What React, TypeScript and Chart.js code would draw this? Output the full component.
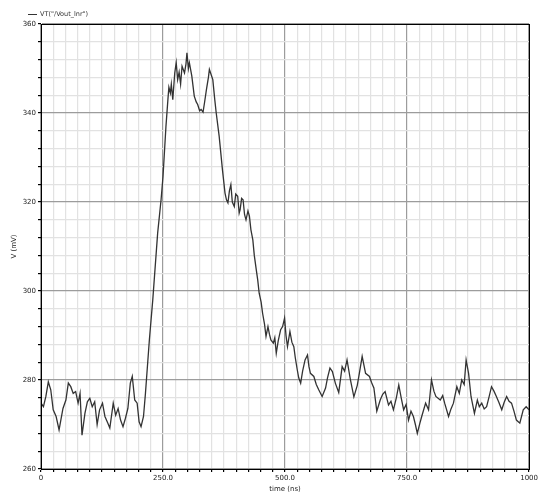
import React, { useEffect, useRef } from "react";
import { Chart, registerables } from "chart.js";

Chart.register(...registerables);

const legendLabel = 'VT("/Vout_lnr")';
const xTitle = "time (ns)";
const yTitle = "V (mV)";

const timeNs = [
  0, 5, 10, 15, 20, 25, 31, 37, 40, 45, 51, 56, 61, 66, 71, 76, 80, 84, 90, 95,
  100, 105, 110, 115, 120, 126, 131, 137, 141, 148, 153, 158, 163, 168, 173, 178, 183, 187, 192, 197,
  201, 205, 210, 214, 219, 222, 229, 239, 246, 250, 256, 260, 262, 265, 267, 270, 274, 277, 280, 283,
  286, 289, 294, 297, 299, 302, 304, 309, 314, 318, 321, 325, 328, 332, 335, 339, 343, 345, 349, 352,
  356, 359, 365, 372, 377, 380, 383, 386, 389, 392, 396, 399, 403, 406, 408, 411, 414, 417, 420, 424,
  427, 430, 434, 437, 441, 444, 447, 451, 454, 458, 461, 465, 468, 471, 476, 479, 482, 486, 491, 495,
  499, 502, 505, 510, 514, 518, 521, 525, 528, 532, 536, 541, 546, 549, 552, 559, 564, 569, 576, 583,
  587, 592, 597, 603, 610, 617, 622, 627, 634, 641, 648, 653, 658, 665, 673, 677, 682, 688, 695, 700,
  705, 712, 717, 722, 728, 733, 738, 743, 748, 753, 758, 763, 767, 771, 776, 780, 788, 794, 800, 805,
  809, 818, 823, 827, 835, 840, 845, 852, 857, 862, 867, 871, 876, 881, 888, 894, 898, 903, 908, 913,
  918, 923, 928, 933, 938, 944, 949, 954, 959, 964, 969, 974, 981, 988, 994, 1000,
];

const voltageMv = [
  274.8, 274.0, 276.3, 279.6, 277.8, 273.3, 271.8, 268.8, 270.6, 273.6, 275.5, 279.3, 278.5, 277.0, 277.4, 274.8, 277.0, 267.6, 272.5, 275.1,
  275.9, 274.0, 275.1, 270.0, 273.3, 274.8, 271.8, 270.3, 269.2, 274.8, 272.1, 273.6, 271.0, 269.5, 271.4, 273.6, 279.3, 280.8, 275.5, 274.8,
  270.6, 269.5, 271.8, 277.0, 284.5, 289.0, 298.0, 313.0, 320.5, 325.8, 337.0, 343.0, 345.8, 344.5, 346.5, 343.0, 349.0, 351.3, 347.5, 349.2,
  346.5, 350.5, 349.0, 351.0, 353.5, 350.0, 351.3, 348.3, 343.8, 342.5, 341.9, 340.5, 340.8, 340.2, 342.3, 345.3, 348.0, 349.8, 348.5, 347.5,
  343.0, 340.0, 334.8, 327.0, 322.0, 320.5, 319.8, 322.5, 323.9, 320.0, 319.0, 321.8, 321.3, 317.5, 318.3, 320.8, 320.5, 317.2, 316.0, 318.0,
  316.8, 313.8, 311.5, 308.0, 304.8, 302.5, 299.5, 297.5, 295.0, 292.5, 289.8, 292.0, 290.3, 289.0, 288.3, 289.5, 286.0, 288.8, 291.3, 292.0,
  293.9, 290.0, 287.5, 290.9, 288.5, 287.5, 285.0, 282.3, 280.5, 279.3, 282.0, 284.5, 285.6, 283.0, 281.5, 280.8, 279.0, 277.8, 276.3, 278.2,
  280.5, 282.7, 281.9, 279.3, 277.2, 283.0, 282.0, 284.5, 280.0, 276.2, 278.8, 282.0, 285.3, 281.5, 280.8, 279.5, 278.2, 273.0, 275.5, 276.8,
  277.4, 274.4, 275.2, 273.3, 276.0, 278.9, 276.0, 273.3, 274.5, 271.0, 273.0, 271.8, 270.0, 268.0, 270.2, 271.8, 274.8, 273.3, 280.0, 277.5,
  276.3, 275.5, 276.5, 274.8, 271.8, 273.5, 274.8, 278.5, 277.0, 280.0, 279.0, 284.5, 281.5, 276.3, 272.5, 275.5, 274.0, 274.8, 273.5, 274.0,
  276.2, 278.5, 277.5, 276.3, 275.0, 273.3, 275.0, 276.3, 275.2, 274.8, 273.0, 271.0, 270.3, 273.3, 274.0, 273.3,
];

const xMajorTicks = [0, 250, 500, 750, 1000];
const xTickLabels = ["0", "250.0", "500.0", "750.0", "1000"];
const yMajorTicks = [260, 280, 300, 320, 340, 360];
const yTickLabels = ["260", "280", "300", "320", "340", "360"];

const FONT = "'DejaVu Sans', sans-serif";

const framePlugin = {
  id: "frameAndLegend",
  afterDraw(chart: any) {
    const { ctx, chartArea } = chart;
    ctx.save();
    ctx.strokeStyle = "#000";
    ctx.lineWidth = 1;
    ctx.strokeRect(
      Math.round(chartArea.left) + 0.5,
      Math.round(chartArea.top) + 0.5,
      Math.round(chartArea.right - chartArea.left),
      Math.round(chartArea.bottom - chartArea.top)
    );
    ctx.strokeStyle = "#333";
    ctx.lineWidth = 1;
    ctx.beginPath();
    ctx.moveTo(28, 14.5);
    ctx.lineTo(37, 14.5);
    ctx.stroke();
    ctx.fillStyle = "#333";
    ctx.font = `6.5px ${FONT}`;
    ctx.textBaseline = "middle";
    ctx.textAlign = "left";
    ctx.fillText(legendLabel, 40, 14.5);
    ctx.restore();
  },
};

export default function App() {
  const ref = useRef<HTMLCanvasElement | null>(null);

  useEffect(() => {
    if (!ref.current) return;
    const points = timeNs.map((t, i) => ({ x: t, y: voltageMv[i] }));
    const chart = new Chart(ref.current, {
      type: "line",
      data: {
        datasets: [
          {
            label: legendLabel,
            data: points,
            borderColor: "#333333",
            borderWidth: 1.3,
            pointRadius: 0,
            tension: 0,
            fill: false,
          },
        ],
      },
      options: {
        animation: false,
        responsive: false,
        layout: { padding: { top: 24, right: 9, left: 0, bottom: 0 } },
        plugins: {
          legend: { display: false },
          tooltip: { enabled: false },
        },
        scales: {
          x: {
            type: "linear",
            min: 0,
            max: 1000,
            afterFit: (s: any) => {
              s.height = 24;
            },
            ticks: {
              stepSize: 25,
              autoSkip: false,
              maxRotation: 0,
              padding: 2,
              color: "#222",
              font: { family: FONT, size: 7 },
              callback: (v: any) => {
                const i = xMajorTicks.indexOf(Number(v));
                return i >= 0 ? xTickLabels[i] : "";
              },
            },
            grid: {
              color: (c: any) =>
                xMajorTicks.includes(c.tick?.value) ? "#9c9c9c" : "#e2e2e2",
              lineWidth: 1.2,
              tickLength: 3,
              tickColor: "#000",
            },
            border: { display: true, color: "#000", width: 1 },
            title: {
              display: true,
              text: xTitle,
              color: "#222",
              font: { family: FONT, size: 7 },
              padding: { top: 0, bottom: 0 },
            },
          },
          y: {
            type: "linear",
            min: 260,
            max: 360,
            afterFit: (s: any) => {
              s.width = 41;
            },
            ticks: {
              stepSize: 4,
              autoSkip: false,
              padding: 2,
              color: "#222",
              font: { family: FONT, size: 7 },
              callback: (v: any) => {
                const i = yMajorTicks.indexOf(Number(v));
                return i >= 0 ? yTickLabels[i] : "";
              },
            },
            grid: {
              color: (c: any) =>
                yMajorTicks.includes(c.tick?.value) ? "#9c9c9c" : "#e2e2e2",
              lineWidth: 1.2,
              tickLength: 3,
              tickColor: "#000",
            },
            border: { display: true, color: "#000", width: 1 },
            title: {
              display: true,
              text: yTitle,
              color: "#222",
              font: { family: FONT, size: 7 },
              padding: { top: 10, bottom: 0 },
            },
          },
        },
      },
      plugins: [framePlugin],
    });
    return () => chart.destroy();
  }, []);

  return (
    <div style={{ position: "fixed", left: 0, top: 0, width: 540, height: 493, background: "#fff" }}>
      <canvas ref={ref} width={540} height={493} />
    </div>
  );
}
